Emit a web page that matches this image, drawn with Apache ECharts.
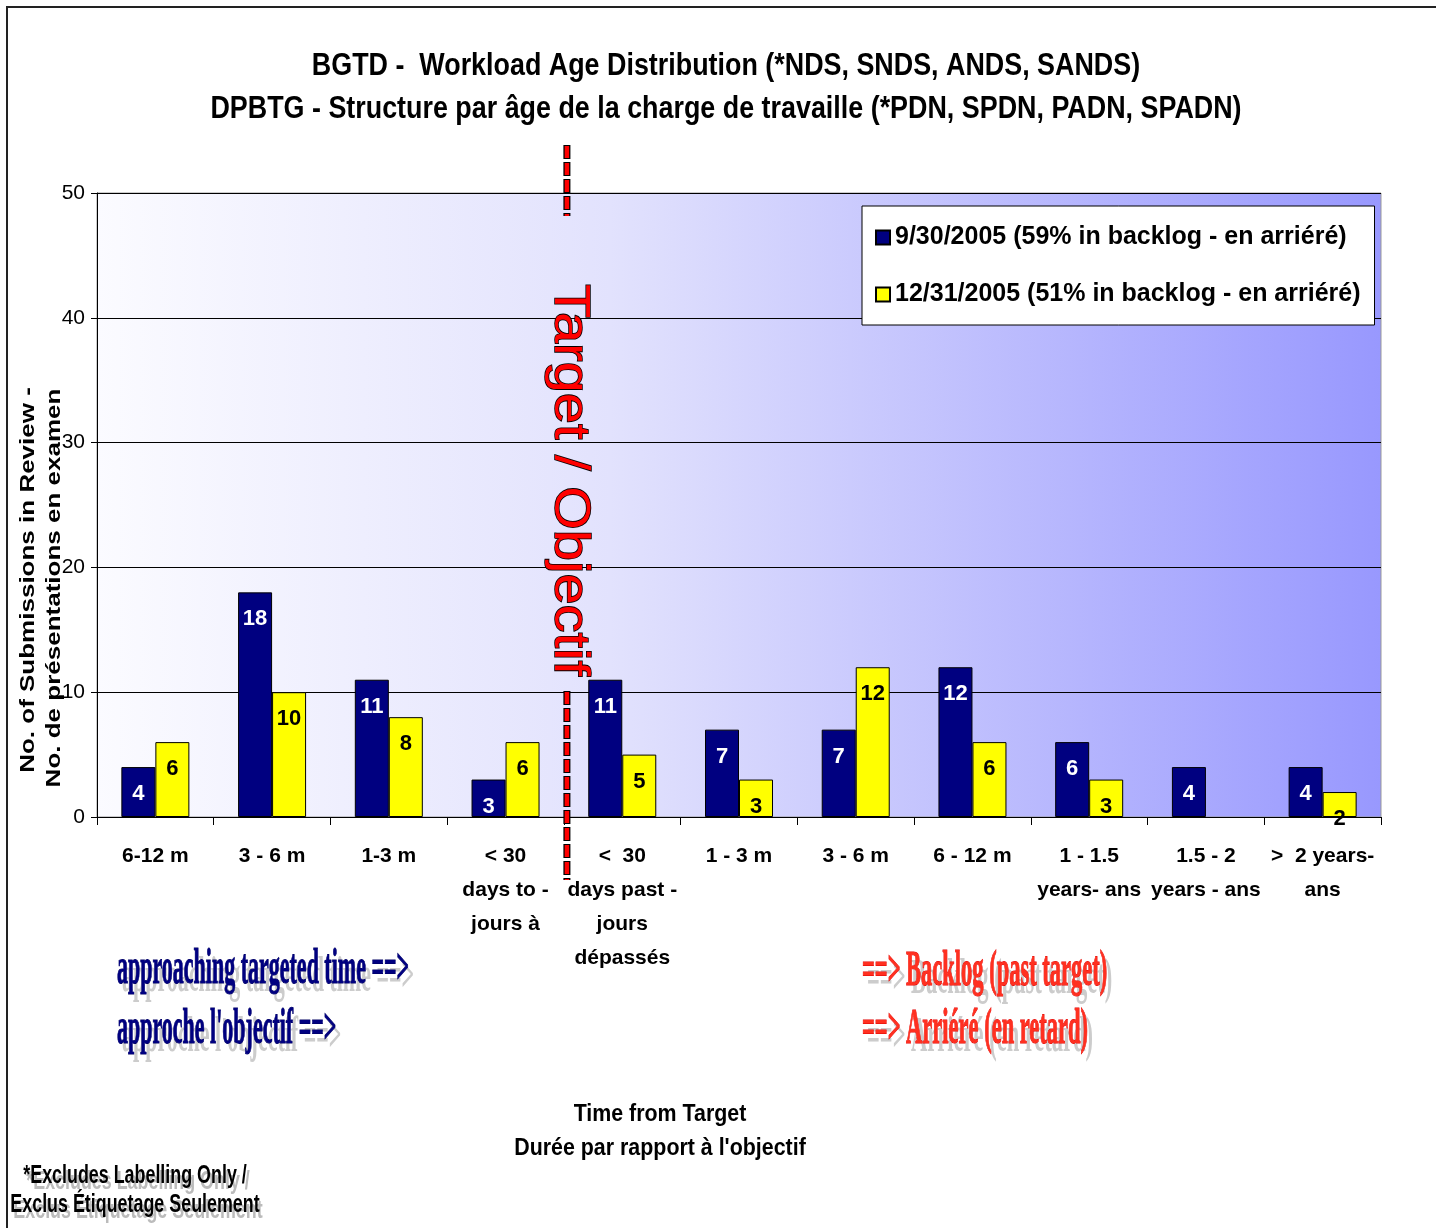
<!DOCTYPE html>
<html>
<head>
<meta charset="utf-8">
<script src="https://cdn.jsdelivr.net/npm/echarts@6/dist/echarts.min.js"></script>
<style>
html,body{margin:0;padding:0;background:#fff;}
#c{width:1437px;height:1228px;}
</style>
</head>
<body>
<div id="c"></div>
<script>
var categories = ["6-12 m", "3 - 6 m", "1-3 m", "< 30\ndays to -\njours à", "<  30\ndays past -\njours\ndépassés", "1 - 3 m", "3 - 6 m", "6 - 12 m", "1 - 1.5\nyears- ans", "1.5 - 2\nyears - ans", ">  2 years-\nans"];
var seriesSep2005 = [4, 18, 11, 3, 11, 7, 7, 12, 6, 4, 4];
var seriesDec2005 = [6, 10, 8, 6, 5, 3, 12, 6, 3, null, 2];
var seriesNames = ["9/30/2005 (59% in backlog - en arriéré)", "12/31/2005 (51% in backlog - en arriéré)"];
var yTicks = [0, 10, 20, 30, 40, 50];
var titleLines = ["BGTD -  Workload Age Distribution (*NDS, SNDS, ANDS, SANDS)", "DPBTG - Structure par âge de la charge de travaille (*PDN, SPDN, PADN, SPADN)"];

var SANS = "'Liberation Sans',Arial,sans-serif";
var SERIF = "'Liberation Serif','Times New Roman',serif";

var chart = echarts.init(document.getElementById('c'));

var option = {
  backgroundColor: '#ffffff',
  animation: false,
  legend: {
    left: 862, top: 206,
    orient: 'vertical',
    backgroundColor: '#fff', borderColor: '#000', borderWidth: 1,
    padding: [19, 14, 18, 13],
    itemGap: 32, itemWidth: 14, itemHeight: 14,
    icon: 'rect',
    textStyle: {fontFamily: SANS, fontWeight: 'bold', fontSize: 25, color: '#000'},
    data: seriesNames
  },
  grid: {
    left: 97, top: 193, width: 1284, height: 624,
    show: true, borderColor: '#999', borderWidth: 1,
    backgroundColor: new echarts.graphic.LinearGradient(0, 0, 1, 0, [
      {offset: 0, color: '#fbfbff'},
      {offset: 0.4, color: '#e2e2fd'},
      {offset: 1, color: '#9898fe'}
    ])
  },
  xAxis: {
    type: 'category', data: categories,
    axisLine: {lineStyle: {color: '#000', width: 1}},
    axisTick: {show: true, length: 8, lineStyle: {color: '#000'}},
    axisLabel: {interval: 0, margin: 22, fontFamily: SANS, fontWeight: 'bold', fontSize: 21, lineHeight: 34, color: '#000'}
  },
  yAxis: {
    type: 'value', min: 0, max: 50, interval: 10,
    axisLine: {show: true, lineStyle: {color: '#000'}},
    axisTick: {show: true, length: 6, lineStyle: {color: '#000'}},
    axisLabel: {margin: 12, fontFamily: SANS, fontSize: 21, color: '#000',
      formatter: function (v) { return yTicks.indexOf(v) >= 0 ? String(v) : ''; }},
    splitLine: {show: true, lineStyle: {color: '#000', width: 1}}
  },
  series: [
    {
      name: seriesNames[0], type: 'bar', data: seriesSep2005,
      barWidth: 34, barGap: '0%',
      itemStyle: {color: '#000080', borderColor: '#000', borderWidth: 1},
      label: {show: true, position: 'insideTop', distance: 16, color: '#fff', fontFamily: SANS, fontWeight: 'bold', fontSize: 22}
    },
    {
      name: seriesNames[1], type: 'bar', data: seriesDec2005,
      barWidth: 34,
      itemStyle: {color: '#ffff00', borderColor: '#000', borderWidth: 1},
      label: {show: true, position: 'insideTop', distance: 16, color: '#000', fontFamily: SANS, fontWeight: 'bold', fontSize: 22}
    }
  ]
};
chart.setOption(option);

function buildGraphics() {
  var x3 = chart.convertToPixel({xAxisIndex: 0}, 3);
  var x4 = chart.convertToPixel({xAxisIndex: 0}, 4);
  var tx = (x3 + x4) / 2 + 3;
  var els = [];
  // outer frame
  els.push({type: 'polyline', silent: true, shape: {points: [[7, 1240], [7, 7], [1436, 7]]},
    style: {stroke: '#222', lineWidth: 2, fill: null}});
  // title
  els.push({type: 'text', x: 726, y: 66, scaleX: 0.84,
    style: {text: titleLines[0], font: 'bold 32px ' + SANS, fill: '#000', align: 'center', verticalAlign: 'middle'}});
  els.push({type: 'text', x: 726, y: 109, scaleX: 0.84,
    style: {text: titleLines[1], font: 'bold 32px ' + SANS, fill: '#000', align: 'center', verticalAlign: 'middle'}});
  // dashed target line
  function dashed(y1, y2) {
    els.push({type: 'line', z: 50, shape: {x1: tx, y1: y1, x2: tx, y2: y2},
      style: {stroke: '#000', lineWidth: 7, lineDash: [14, 3]}});
    els.push({type: 'line', z: 51, shape: {x1: tx, y1: y1 + 1, x2: tx, y2: y2},
      style: {stroke: '#ff0000', lineWidth: 4.5, lineDash: [12, 5]}});
  }
  dashed(145, 216);
  dashed(691, 880);
  els.push({type: 'text', z: 52, x: tx + 2, y: 480, rotation: -Math.PI / 2, scaleX: 1.12,
    style: {text: 'Target / Objectif', font: '50px ' + SANS, fill: '#ff0000', stroke: '#000', lineWidth: 1.5,
      align: 'center', verticalAlign: 'middle'}});
  // y axis name
  els.push({type: 'text', x: 28, y: 580, rotation: Math.PI / 2, scaleX: 1.3,
    style: {text: 'No. of Submissions in Review -', font: 'bold 20px ' + SANS, fill: '#000', align: 'center', verticalAlign: 'middle'}});
  els.push({type: 'text', x: 54, y: 588, rotation: Math.PI / 2, scaleX: 1.3,
    style: {text: 'No. de présentations en examen', font: 'bold 20px ' + SANS, fill: '#000', align: 'center', verticalAlign: 'middle'}});
  // x axis name
  els.push({type: 'text', x: 660, y: 1132, scaleX: 0.93,
    style: {text: 'Time from Target\nDurée par rapport à l\'objectif', font: 'bold 23px ' + SANS, lineHeight: 34, fill: '#000', align: 'center', verticalAlign: 'middle'}});
  // annotations
  function wordart(txt, x, y, fill, stroke, sx) {
    els.push({type: 'text', x: x + 5, y: y + 8, scaleX: sx,
      style: {text: txt, font: 'bold 50px ' + SERIF, fill: '#cccccc', align: 'left', verticalAlign: 'middle'}});
    els.push({type: 'text', x: x, y: y, scaleX: sx,
      style: {text: txt, font: 'bold 50px ' + SERIF, fill: fill, stroke: stroke, lineWidth: 1, align: 'left', verticalAlign: 'middle'}});
  }
  wordart('approaching targeted time ==>', 117, 970, '#000080', '#000060', 0.44);
  wordart('approche l\'objectif ==>', 117, 1030, '#000080', '#000060', 0.44);
  wordart('==> Backlog (past target)', 862, 972, '#ff3020', '#e00000', 0.45);
  wordart('==> Arriéré (en retard)', 862, 1030, '#ff3020', '#e00000', 0.45);
  // footnote
  function foot(txt, y) {
    els.push({type: 'text', x: 138, y: y + 6, scaleX: 0.715,
      style: {text: txt, font: 'bold 25px ' + SANS, fill: '#bbbbbb', align: 'center', verticalAlign: 'middle'}});
    els.push({type: 'text', x: 135, y: y, scaleX: 0.715,
      style: {text: txt, font: 'bold 25px ' + SANS, fill: '#000', align: 'center', verticalAlign: 'middle'}});
  }
  foot('*Excludes Labelling Only /', 1176);
  foot('Exclus Étiquetage Seulement', 1205);
  chart.setOption({graphic: els});
}
buildGraphics();
</script>
</body>
</html>
